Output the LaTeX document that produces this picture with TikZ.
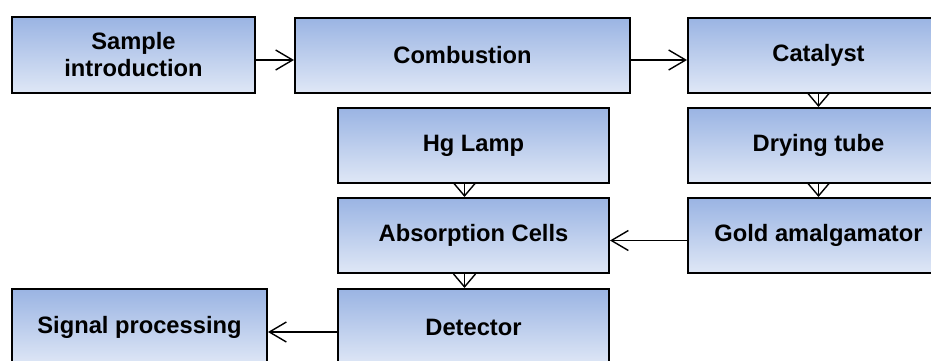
\documentclass[tikz,border=0pt]{standalone}
\usepackage{fontspec}
\setmainfont{Liberation Sans}
\usetikzlibrary{arrows.meta}
\definecolor{boxtop}{RGB}{154,180,227}
\definecolor{boxbot}{RGB}{223,231,246}
\tikzset{
  blk/.style={draw=black, line width=2pt, top color=boxtop, bottom color=boxbot,
    anchor=north west, inner sep=0pt, align=center,
    font=\fontsize{23.7}{27}\selectfont\bfseries},
  harrow/.style={line width=1.4pt, -{Straight Barb[length=17pt,width=20pt,line width=1.4pt]}},
  varrow/.style={line width=1.4pt, -{Straight Barb[length=13pt,width=22pt,line width=1.4pt]}}
}
\begin{document}
\begin{tikzpicture}[x=1pt,y=-1pt]
  \useasboundingbox (0,0) rectangle (931,360);
  \begin{scope}
    \clip (0,0) rectangle (931,360);
    % top row
    \node[blk, minimum width=243pt, minimum height=76pt] (si) at (11,16) {Sample\\introduction};
    \node[blk, minimum width=335pt, minimum height=75pt] (comb) at (294,16.5) {Combustion};
    \node[blk, minimum width=261pt, minimum height=75pt] (cat) at (687,16.5) {Catalyst};
    % second row
    \node[blk, minimum width=271pt, minimum height=75pt] (hg) at (337,107) {Hg Lamp};
    \node[blk, minimum width=261pt, minimum height=75pt] (dry) at (687,107) {Drying tube};
    % third row
    \node[blk, minimum width=271pt, minimum height=75pt] (abs) at (337,197) {Absorption Cells};
    \node[blk, minimum width=261pt, minimum height=75pt] (gold) at (687,197) {Gold amalgamator};
    % bottom row
    \node[blk, minimum width=255pt, minimum height=76pt] (sig) at (11,288) {Signal processing};
    \node[blk, minimum width=271pt, minimum height=76pt] (det) at (337,288) {Detector};
    % connectors
    \draw[harrow] ([yshift=-5pt]si.east) -- ([yshift=-5pt]si.east -| comb.west);
    \draw[harrow] ([yshift=-5pt]comb.east) -- ([yshift=-5pt]comb.east -| cat.west);
    \draw[varrow] (cat.south) -- (dry.north);
    \draw[varrow] (dry.south) -- (gold.north);
    \draw[harrow] ([yshift=-5pt]gold.west) -- ([yshift=-5pt]gold.west -| abs.east);
    \draw[varrow] ([xshift=-9pt]hg.south) -- ([xshift=-9pt]abs.north);
    \draw[varrow] ([xshift=-9pt]abs.south) -- ([xshift=-9pt]det.north);
    \draw[harrow] ([yshift=-5pt]det.west) -- ([yshift=-5pt]det.west -| sig.east);
  \end{scope}
\end{tikzpicture}
\end{document}
